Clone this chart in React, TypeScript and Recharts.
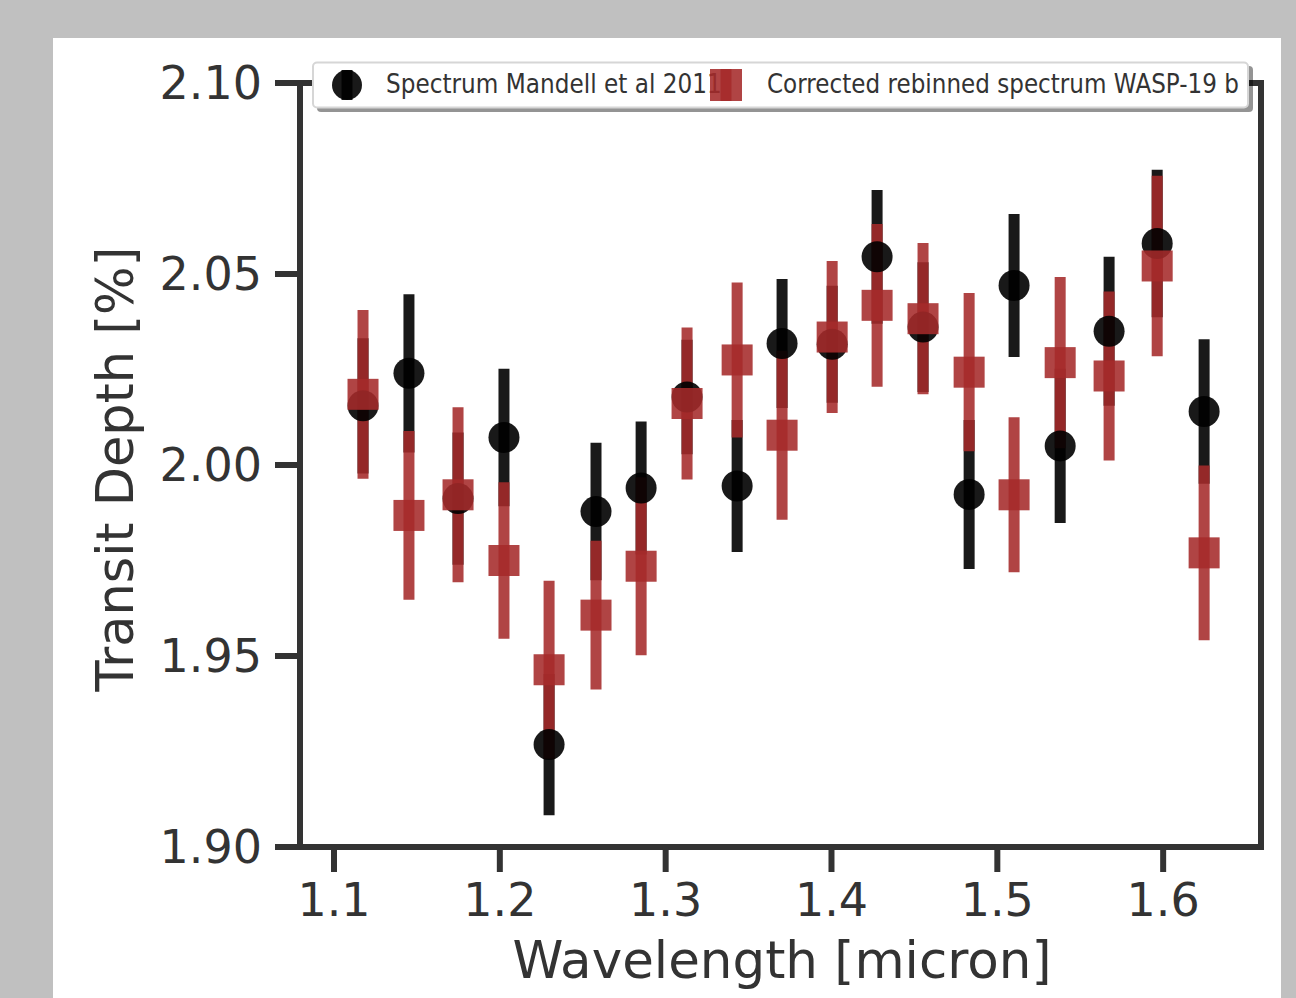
import React from 'react';
import { ScatterChart, Scatter, XAxis, YAxis, ErrorBar, Legend, ReferenceArea, Label } from 'recharts';

const wavelengths = [1.1175, 1.1452, 1.1748, 1.2025, 1.2297, 1.258, 1.2852, 1.3129, 1.3431, 1.3702, 1.4004, 1.4275, 1.4552, 1.483, 1.5101, 1.5379, 1.5674, 1.5964, 1.6247];
const mandellDepth = [2.0155, 2.024, 1.9912, 2.0072, 1.9268, 1.9878, 1.994, 2.0178, 1.9945, 2.0318, 2.0316, 2.0545, 2.0361, 1.9923, 2.047, 2.005, 2.035, 2.058, 2.014];
const mandellErr = [0.0177, 0.0207, 0.0173, 0.018, 0.0185, 0.018, 0.0174, 0.015, 0.0173, 0.0169, 0.0153, 0.0175, 0.017, 0.0195, 0.0187, 0.0202, 0.0195, 0.0193, 0.0189];
const rebinnedDepth = [2.0185, 1.9868, 1.9922, 1.975, 1.9464, 1.9607, 1.9735, 2.0161, 2.0275, 2.0078, 2.0335, 2.0418, 2.0383, 2.0243, 1.9922, 2.0268, 2.0233, 2.0521, 1.977];
const rebinnedErr = [0.0221, 0.0221, 0.0229, 0.0205, 0.0233, 0.0195, 0.0233, 0.0199, 0.0203, 0.0221, 0.0199, 0.0213, 0.0198, 0.0207, 0.0203, 0.0224, 0.0221, 0.0236, 0.0229];

const xTicks = [1.1, 1.2, 1.3, 1.4, 1.5, 1.6];
const yTicks = [1.9, 1.95, 2.0, 2.05, 2.1];
const xDomain: [number, number] = [1.0795, 1.659];
const yDomain: [number, number] = [1.9, 2.1];

const seriesNames = ['Spectrum Mandell et al 2011', 'Corrected rebinned spectrum WASP-19 b'];

const mandellData = wavelengths.map((x, i) => ({ x, y: mandellDepth[i], err: mandellErr[i] }));
const rebinnedData = wavelengths.map((x, i) => ({ x, y: rebinnedDepth[i], err: rebinnedErr[i] }));

const BLACK = 'rgba(0,0,0,0.9)';
const RED = 'rgba(165,42,42,0.88)';
const AXIS = '#333333';
const FONT = '"DejaVu Sans", Verdana, sans-serif';

const CircleShape = (props: any) => {
  const { cx, cy } = props;
  if (cx == null || cy == null) return null;
  return <circle cx={cx} cy={cy} r={15.5} fill={BLACK} />;
};

const SquareShape = (props: any) => {
  const { cx, cy } = props;
  if (cx == null || cy == null) return null;
  return <rect x={cx - 15.5} y={cy - 15.5} width={31} height={31} fill={RED} />;
};

const renderLegend = () => (
  <svg width={950} height={56} style={{ display: 'block', overflow: 'visible' }}>
    <rect x={5} y={5} width={936} height={46} rx={4} fill="#000" fillOpacity={0.42} />
    <rect x={1} y={1.5} width={935} height={45} rx={4} fill="#fff" stroke="#d6d6d6" strokeWidth={2} />
    <line x1={35} x2={35} y1={9} y2={39} stroke={BLACK} strokeWidth={11} />
    <circle cx={35} cy={24} r={15} fill={BLACK} />
    <text transform="translate(74 32) scale(1 1.12)" x={0} y={0} fontSize={23.2} fill="#333" fontFamily={FONT}>{seriesNames[0]}</text>
    <line x1={414} x2={414} y1={8} y2={40} stroke={RED} strokeWidth={11} />
    <rect x={398} y={8} width={32} height={32} fill={RED} />
    <text transform="translate(455 32) scale(1 1.12)" x={0} y={0} fontSize={23.1} fill="#333" fontFamily={FONT}>{seriesNames[1]}</text>
  </svg>
);

export default function App() {
  return (
    <div style={{ position: 'fixed', left: 0, top: 0, width: 1296, height: 998, background: '#c0c0c0', overflow: 'hidden', fontFamily: FONT }}>
      <div style={{ position: 'absolute', left: 53, top: 38, width: 1228, height: 960, background: '#ffffff' }}>
        <ScatterChart width={1228} height={960} margin={{ top: 45, right: 20, bottom: 51, left: 47 }}>
          <XAxis
            type="number"
            dataKey="x"
            domain={xDomain}
            ticks={xTicks}
            allowDataOverflow
            height={100}
            tickSize={25}
            tickMargin={11}
            tickFormatter={(v: number) => v.toFixed(1)}
            tick={{ fill: AXIS, fontSize: 46, fontFamily: FONT }}
            tickLine={{ stroke: AXIS, strokeWidth: 6 }}
            axisLine={false}
          >
            <Label
              content={() => (
                <text x={729} y={940} textAnchor="middle" fontSize={51.5} fill={AXIS} fontFamily={FONT}>
                  Wavelength [micron]
                </text>
              )}
            />
          </XAxis>
          <YAxis
            type="number"
            dataKey="y"
            domain={yDomain}
            ticks={yTicks}
            allowDataOverflow
            width={200}
            tickSize={25}
            tickMargin={13}
            tickFormatter={(v: number) => v.toFixed(2)}
            tick={{ fill: AXIS, fontSize: 46, fontFamily: FONT }}
            tickLine={{ stroke: AXIS, strokeWidth: 6 }}
            axisLine={false}
          >
            <Label
              content={() => (
                <text x={80} y={431} transform="rotate(-90 80 431)" textAnchor="middle" fontSize={51} fill={AXIS} fontFamily={FONT}>
                  Transit Depth [%]
                </text>
              )}
            />
          </YAxis>
          <ReferenceArea x1={xDomain[0]} x2={xDomain[1]} y1={yDomain[0]} y2={yDomain[1]} fill="none" fillOpacity={0} stroke={AXIS} strokeWidth={6} ifOverflow="visible" />
          <Scatter name={seriesNames[0]} data={mandellData} shape={CircleShape} isAnimationActive={false}>
            <ErrorBar dataKey="err" direction="y" width={0} strokeWidth={11} stroke={BLACK} isAnimationActive={false} />
          </Scatter>
          <Scatter name={seriesNames[1]} data={rebinnedData} shape={SquareShape} isAnimationActive={false}>
            <ErrorBar dataKey="err" direction="y" width={0} strokeWidth={11} stroke={RED} isAnimationActive={false} />
          </Scatter>
          <Legend
            layout="horizontal"
            verticalAlign="middle"
            align="center"
            content={renderLegend}
            wrapperStyle={{ left: 259, top: 23, width: 950, height: 56 }}
          />
        </ScatterChart>
      </div>
    </div>
  );
}
